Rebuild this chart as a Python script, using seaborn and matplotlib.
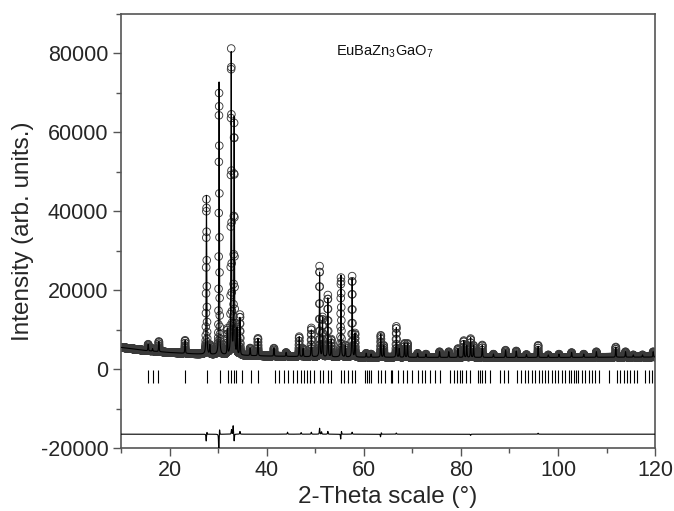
import numpy as np
import pandas as pd
import matplotlib
matplotlib.use("Agg")
import matplotlib.pyplot as plt
from matplotlib.ticker import MultipleLocator
import seaborn as sns

# ---------------- data ----------------
# background level (2-theta, intensity)
bg_angle = [10, 15, 20, 25, 30, 40, 50, 60, 80, 100, 120]
bg_level = [5500, 4700, 4200, 3850, 3600, 3300, 3100, 3000, 2950, 2950, 3050]

# Bragg peaks: position (deg) and peak-top intensity of calculated curve
peak_pos = [15.6, 16.5, 17.8, 23.2, 27.6, 28.3, 30.2, 31.9, 32.7, 33.3, 33.9, 34.5,
            36.6, 38.2, 41.5, 44.0, 46.7, 47.5, 49.2, 50.9, 51.5, 52.6, 53.3,
            55.3, 56.2, 57.6, 58.2, 60.5, 61.5, 63.5, 64.1, 66.7, 67.3, 68.4,
            69.0, 71.1, 72.8, 75.6, 77.5, 79.4, 80.6, 81.2, 82.0, 82.6, 84.4,
            86.7, 89.2, 91.4, 93.5, 95.9, 98.0, 100.2, 102.8, 105.3, 107.9,
            111.9, 113.9, 115.5, 117.4, 119.6]
peak_top = [6300, 5200, 7000, 7300, 44000, 6000, 72700, 9900, 80000, 63500, 10000, 12900,
            5300, 7800, 5300, 4200, 8200, 5200, 9900, 24500, 13000, 18000, 7500,
            23800, 6000, 23000, 9000, 4000, 3800, 8900, 6000, 10500, 5200, 6500,
            6500, 4000, 3800, 4400, 4400, 5200, 7200, 6000, 8000, 6000, 6100,
            3800, 4800, 4600, 3700, 5800, 3600, 3800, 4200, 3800, 4400,
            5600, 4400, 3600, 3600, 4400]

# observed - calculated misfit features (position, amplitude)
diff_pos = [27.55, 27.7, 30.15, 30.3, 32.75, 33.1, 33.3, 34.5, 44.3, 47.1, 49.2,
            50.9, 51.3, 52.6, 55.25, 55.4, 57.6, 63.45, 63.6, 66.7, 82.0, 95.9]
diff_amp = [-1800, 600, -5000, 1500, 1200, 2200, -1800, 700, 500, 400, 500,
            1500, 600, 700, -1300, 800, 500, -700, 400, 300, -300, 250]
diff_offset = -16500

# Bragg reflection markers (deg)
bragg_pos = [15.6, 16.5, 17.7, 23.2, 27.7, 30.3, 32.1, 32.7, 33.2, 33.7, 34.9, 36.7,
             38.3, 41.8, 42.6, 43.5, 44.4, 45.5, 46.2, 47.0, 47.7, 48.4, 49.0,
             49.7, 50.9, 51.5, 52.6, 53.3, 55.4, 56.0, 56.7, 57.6, 58.1, 60.3, 60.7,
             61.1, 61.5, 62.9, 63.5, 64.3, 65.7, 65.9, 67.0, 68.1, 68.8, 70.0,
             71.1, 71.9, 72.7, 73.6, 74.7, 75.7, 77.8, 78.5, 79.1, 79.8, 80.3,
             81.0, 81.9, 83.5, 84.0, 84.4, 85.0, 86.0, 88.1, 88.8, 89.7, 91.5,
             92.4, 93.2, 93.9, 94.6, 95.3, 96.0, 96.7, 97.4, 98.0, 98.7, 99.4,
             100.1, 100.8, 101.5, 102.2, 102.7, 103.2, 103.7, 104.2, 104.9,
             105.6, 106.3, 107.0, 107.7, 108.5, 110.4, 112.1, 112.8, 113.5,
             114.2, 114.9, 115.6, 116.3, 118.0, 118.7, 119.3, 119.9]

# ---------------- build profiles ----------------
step = 0.02
tt = np.arange(10.0, 120.0 + step / 2, step)
bg = np.interp(tt, bg_angle, bg_level)
fwhm = 0.14
eta = 0.5


def pv(x, c, w):
    z = 2.0 * (x - c) / w
    return eta / (1 + z ** 2) + (1 - eta) * np.exp(-np.log(2) * z ** 2)


calc = bg.copy()
for p, h in zip(peak_pos, peak_top):
    net = h - np.interp(p, bg_angle, bg_level)
    calc += net * pv(tt, p, fwhm)

misfit = np.zeros_like(tt)
for p, a in zip(diff_pos, diff_amp):
    misfit += a * pv(tt, p, fwhm * 0.9)

obs = calc + misfit

df = pd.DataFrame({"tt": tt, "obs": obs, "calc": calc, "diff": misfit + diff_offset})

# ---------------- plot ----------------
sns.set_style("ticks")
plt.rcParams["font.family"] = ["Liberation Sans", "DejaVu Sans"]
plt.rcParams["mathtext.fontset"] = "custom"
plt.rcParams["mathtext.rm"] = "Liberation Sans"
plt.rcParams["mathtext.it"] = "Liberation Sans"
plt.rcParams["axes.unicode_minus"] = False

fig = plt.figure(figsize=(6.74, 5.11), dpi=100)
ax = fig.add_axes([0.1795, 0.1233, 0.7925, 0.8493])

sns.scatterplot(data=df, x="tt", y="obs", ax=ax, marker="o", s=30,
                facecolor="none", edgecolor="#3a3a3a", linewidth=0.65,
                legend=False, zorder=2)
sns.lineplot(data=df, x="tt", y="calc", ax=ax, color="black", linewidth=0.8,
             estimator=None, sort=False, zorder=3)
sns.lineplot(data=df, x="tt", y="diff", ax=ax, color="black", linewidth=0.8,
             estimator=None, sort=False, zorder=3)
ax.vlines(bragg_pos, -3400, -300, color="black", linewidth=0.8, zorder=3)

ax.set_xlim(10, 120)
ax.set_ylim(-20000, 90000)
ax.xaxis.set_major_locator(MultipleLocator(20))
ax.xaxis.set_minor_locator(MultipleLocator(10))
ax.yaxis.set_major_locator(MultipleLocator(20000))
ax.yaxis.set_minor_locator(MultipleLocator(10000))
ax.set_yticks([-20000, 0, 20000, 40000, 60000, 80000])

spine_col = "#555555"
for s in ax.spines.values():
    s.set_color(spine_col)
    s.set_linewidth(1.2)
ax.tick_params(which="major", direction="out", length=6, width=1.0,
               color=spine_col, labelsize=15.5, pad=3, top=False, right=False)
ax.tick_params(which="minor", direction="out", length=3.5, width=1.0,
               color=spine_col, top=False, right=False)

ax.set_xlabel("2-Theta scale (°)", fontsize=17.5, labelpad=3)
ax.set_ylabel("Intensity (arb. units.)", fontsize=17.5, labelpad=5)

ax.text(54.2, 80300, r"EuBaZn$_{3}$GaO$_{7}$", fontsize=10.5, ha="left",
        va="center", color="#111111")

fig.savefig("out.png", dpi=100)
